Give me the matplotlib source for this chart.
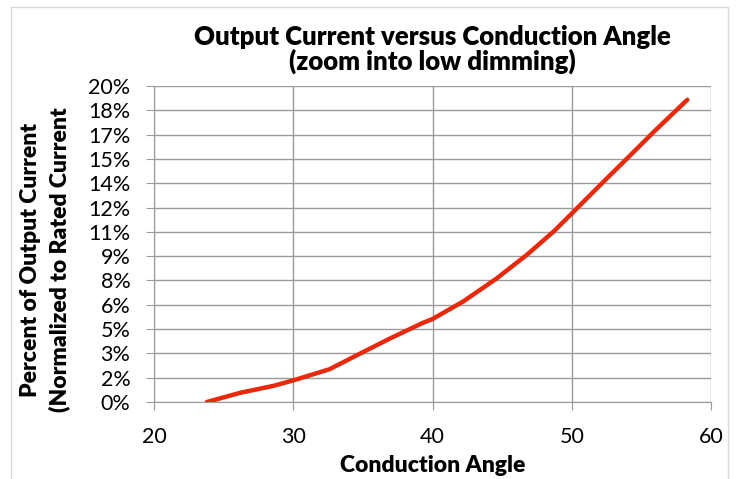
import matplotlib
matplotlib.use('Agg')
import matplotlib.pyplot as plt
from matplotlib.patches import Rectangle

# values
angle = [23.8, 26.2, 28.6, 30.1, 32.6, 34.6, 36.9, 39.3, 40.0, 42.2, 44.6, 46.8,
         48.7, 50.0, 51.3, 52.5, 54.2, 55.9, 58.3]
current = [0.0000, 0.0057, 0.0100, 0.0136, 0.0202, 0.0290, 0.0390, 0.0488, 0.0512, 0.0620,
           0.0762, 0.0910, 0.1052, 0.1163, 0.1275, 0.1378, 0.1522, 0.1668, 0.1865]

x_ticks = [20, 30, 40, 50, 60]
y_ticks = [i * 0.015 for i in range(14)]
y_labels = ['0%', '2%', '3%', '5%', '6%', '8%', '9%', '11%', '12%', '14%', '15%', '17%', '18%', '20%']

plt.rcParams['font.family'] = ['Lato', 'DejaVu Sans']

fig = plt.figure(figsize=(7.37, 4.79), dpi=100)
ax = fig.add_axes([154 / 737, 1 - 402 / 479, (711 - 154) / 737, (402 - 86) / 479])

ax.plot(angle, current, color='#E8290B', lw=3.2, solid_capstyle='round',
        solid_joinstyle='round')

ax.set_xlim(20, 60)
ax.set_ylim(0, 0.195)
ax.set_xticks(x_ticks)
ax.set_yticks(y_ticks)
ax.set_yticklabels(y_labels)
ax.grid(True, color='#9a9a9a', lw=1.0)
ax.set_axisbelow(True)

for s in ['top', 'right']:
    ax.spines[s].set_visible(False)
for s in ['left', 'bottom']:
    ax.spines[s].set_color('#9a9a9a')
ax.tick_params(axis='both', colors='#9a9a9a', labelcolor='black', labelsize=15.5,
               length=6, direction='out')
ax.tick_params(axis='x', pad=12)
ax.tick_params(axis='y', pad=11)

ax.set_title('Output Current versus Conduction Angle\n(zoom into low dimming)',
             fontsize=18.5, fontweight='heavy', linespacing=0.95, pad=12)
ax.set_xlabel('Conduction Angle', fontsize=16.5, fontweight='heavy', labelpad=6)
ax.set_ylabel('Percent of Output Current\n(Normalized to Rated Current',
              fontsize=16.5, fontweight='heavy', linespacing=1.45)
ax.yaxis.set_label_coords(-0.15, 0.45)

# chart area border
fig.patches.append(Rectangle((11 / 737, -0.01), (728 - 11) / 737, 1 - 7 / 479 + 0.01,
                             transform=fig.transFigure, fill=False,
                             edgecolor='#d9d9d9', lw=1.0))

fig.savefig('out.png', dpi=100)
